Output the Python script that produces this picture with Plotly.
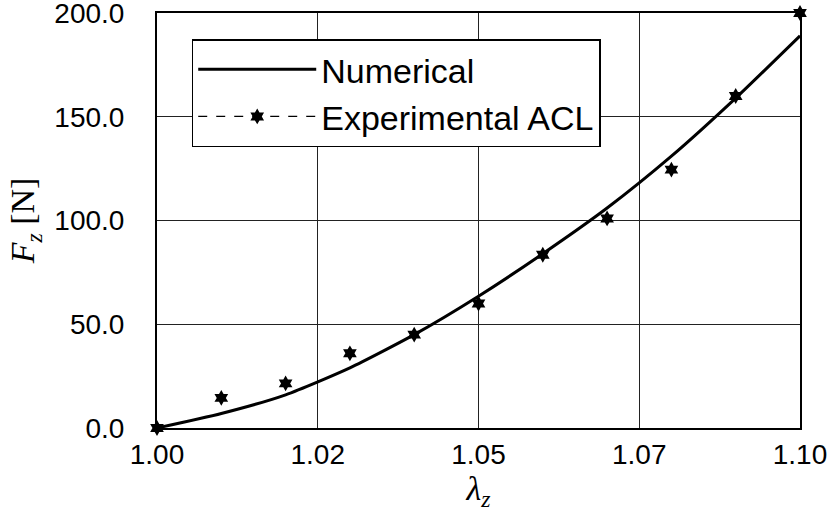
import plotly.graph_objects as go

# Experimental ACL data
exp_lambda = [1.00, 1.01, 1.02, 1.03, 1.04, 1.05, 1.06, 1.07, 1.08, 1.09, 1.10]
exp_force = [0.0, 14.5, 21.5, 36.0, 45.0, 60.0, 83.5, 101.0, 124.5, 160.0, 200.0]

# Numerical curve
num_lambda = [1.00, 1.01, 1.02, 1.03, 1.04, 1.05, 1.06, 1.07, 1.08, 1.09, 1.10]
num_force = [0.0, 7.0, 16.0, 29.0, 45.0, 63.5, 84.0, 106.0, 131.0, 159.0, 189.0]

x_tickvals = [1.00, 1.025, 1.05, 1.075, 1.10]
x_ticktext = ["1.00", "1.02", "1.05", "1.07", "1.10"]
y_tickvals = [0, 50, 100, 150, 200]
y_ticktext = ["0.0", "50.0", "100.0", "150.0", "200.0"]

fig = go.Figure()
fig.add_trace(go.Scatter(
    x=num_lambda, y=num_force, mode="lines", name="Numerical",
    line=dict(color="black", width=3, shape="spline", smoothing=0.6),
))
fig.add_trace(go.Scatter(
    x=exp_lambda, y=exp_force, mode="markers", name="Experimental ACL",
    marker=dict(symbol="hexagram", size=12, color="black"),
    showlegend=False, cliponaxis=False,
))
# legend entry for experimental (dashed line with markers)
fig.add_trace(go.Scatter(
    x=[None], y=[None], mode="lines+markers", name="Experimental ACL",
    line=dict(color="black", width=1.2, dash="dash"),
    marker=dict(symbol="hexagram", size=12, color="black"),
))

axis_font = dict(family="Liberation Sans, Arial, sans-serif", size=28, color="black")
fig.update_layout(
    width=834, height=512,
    margin=dict(l=157, r=34, t=13, b=84, autoexpand=False),
    paper_bgcolor="white", plot_bgcolor="white",
    font=axis_font,
    showlegend=True,
    legend=dict(
        x=0.054, y=0.937, xanchor="left", yanchor="top",
        bgcolor="white", bordercolor="black", borderwidth=1.5,
        font=dict(family="Liberation Sans, Arial, sans-serif", size=34, color="black"),
        itemwidth=118, tracegroupgap=0,
    ),
    xaxis=dict(
        range=[1.0, 1.10], tickmode="array", tickvals=x_tickvals, ticktext=x_ticktext,
        showgrid=True, gridcolor="#222", gridwidth=1,
        showline=True, linecolor="black", linewidth=2, mirror=True,
        ticks="outside", ticklen=0, tickfont=axis_font, zeroline=False,
        ticklabeloverflow="allow", automargin=False,
        title=dict(text="<i>λ<sub>z</sub></i>", font=dict(family="Liberation Serif, Times New Roman, serif", size=34, color="black"), standoff=18),
    ),
    yaxis=dict(
        range=[0, 200], tickmode="array", tickvals=y_tickvals, ticktext=y_ticktext,
        showgrid=True, gridcolor="#222", gridwidth=1,
        showline=True, linecolor="black", linewidth=2, mirror=True,
        ticks="outside", ticklen=0, tickfont=axis_font, zeroline=False,
        ticklabelstandoff=25, ticklabeloverflow="allow", automargin=False,
        title=dict(text="<i>F<sub>z</sub></i> [N]", font=dict(family="Liberation Serif, Times New Roman, serif", size=34, color="black"), standoff=9),
    ),
)

fig.write_html(
    "out.html",
    config={"displayModeBar": False},
    post_script="document.body.style.margin='0';",
)
